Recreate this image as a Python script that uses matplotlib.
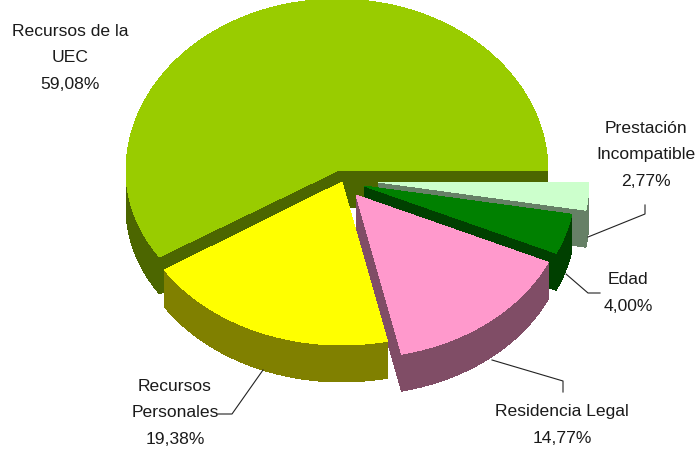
# pie 3d, exploded, hand built because matplotlib has no extruded pie
import numpy as np
import matplotlib
matplotlib.use("Agg")
import matplotlib.pyplot as plt

categories = ["Recursos de la\nUEC", "Recursos\nPersonales", "Residencia Legal", "Edad", "Prestación\nIncompatible"]
shares = [59.08, 19.38, 14.77, 4.00, 2.77]
share_labels = ["59,08%", "19,38%", "14,77%", "4,00%", "2,77%"]

top_colors = ["#99CC00", "#FFFF00", "#FF99CC", "#008000", "#CCFFCC"]
wall_colors = ["#4C6600", "#808000", "#804D66", "#004000", "#668066"]

# apex of each exploded slice, in pixels
apex_x = [337, 342, 356, 364, 378]
apex_y = [172, 183, 196, 187, 183]
rx = 211
ry_front = [159, 163, 163, 163, 163]
ry_back = 172  # perspective makes the back half taller
depth = 37

label_x = [70, 175, 562, 628, 646]
label_y = [58, 413, 425, 293, 155]

plt.rcParams['font.family'] = ['Liberation Sans Narrow', 'Liberation Sans', 'DejaVu Sans']

fig = plt.figure(figsize=(6.95, 4.52), dpi=100)
ax = fig.add_axes([0, 0, 1, 1])
ax.set_xlim(0, 695)
ax.set_ylim(452, 0)
ax.axis("off")


def slice_outline(a0, a1, x0, y0, ry_low):
    t = np.radians(np.linspace(a0, a1, 200))
    s = np.sin(t)
    xs = x0 + rx * np.cos(t)
    ys = y0 - np.where(s > 0, ry_back, ry_low) * s
    return np.r_[x0, xs], np.r_[y0, ys]


edges = np.r_[0, np.cumsum(shares)] * 3.6
# back to front
for i in [0, 4, 3, 2, 1]:
    xs, ys = slice_outline(edges[i], edges[i + 1], apex_x[i], apex_y[i], ry_front[i])
    for d in range(depth, 0, -1):
        ax.fill(xs, ys + d, color=wall_colors[i], lw=0, antialiased=False)
    ax.fill(xs, ys, color=top_colors[i], lw=0, antialiased=False)

# leader lines
ax.plot([588, 645, 645], [238, 215, 206], color="#222222", lw=0.8)
ax.plot([566, 588, 600], [275, 294, 294], color="#222222", lw=0.8)
ax.plot([492, 563, 563], [361, 382, 393], color="#222222", lw=0.8)
ax.plot([263, 232, 218], [371, 415, 415], color="#222222", lw=0.8)

for i in range(len(categories)):
    ax.text(label_x[i], label_y[i], categories[i] + "\n" + share_labels[i], ha="center", va="center",
            fontsize=12.6, color="#1a1a1a", linespacing=1.95)

fig.savefig("out.png", dpi=100)
